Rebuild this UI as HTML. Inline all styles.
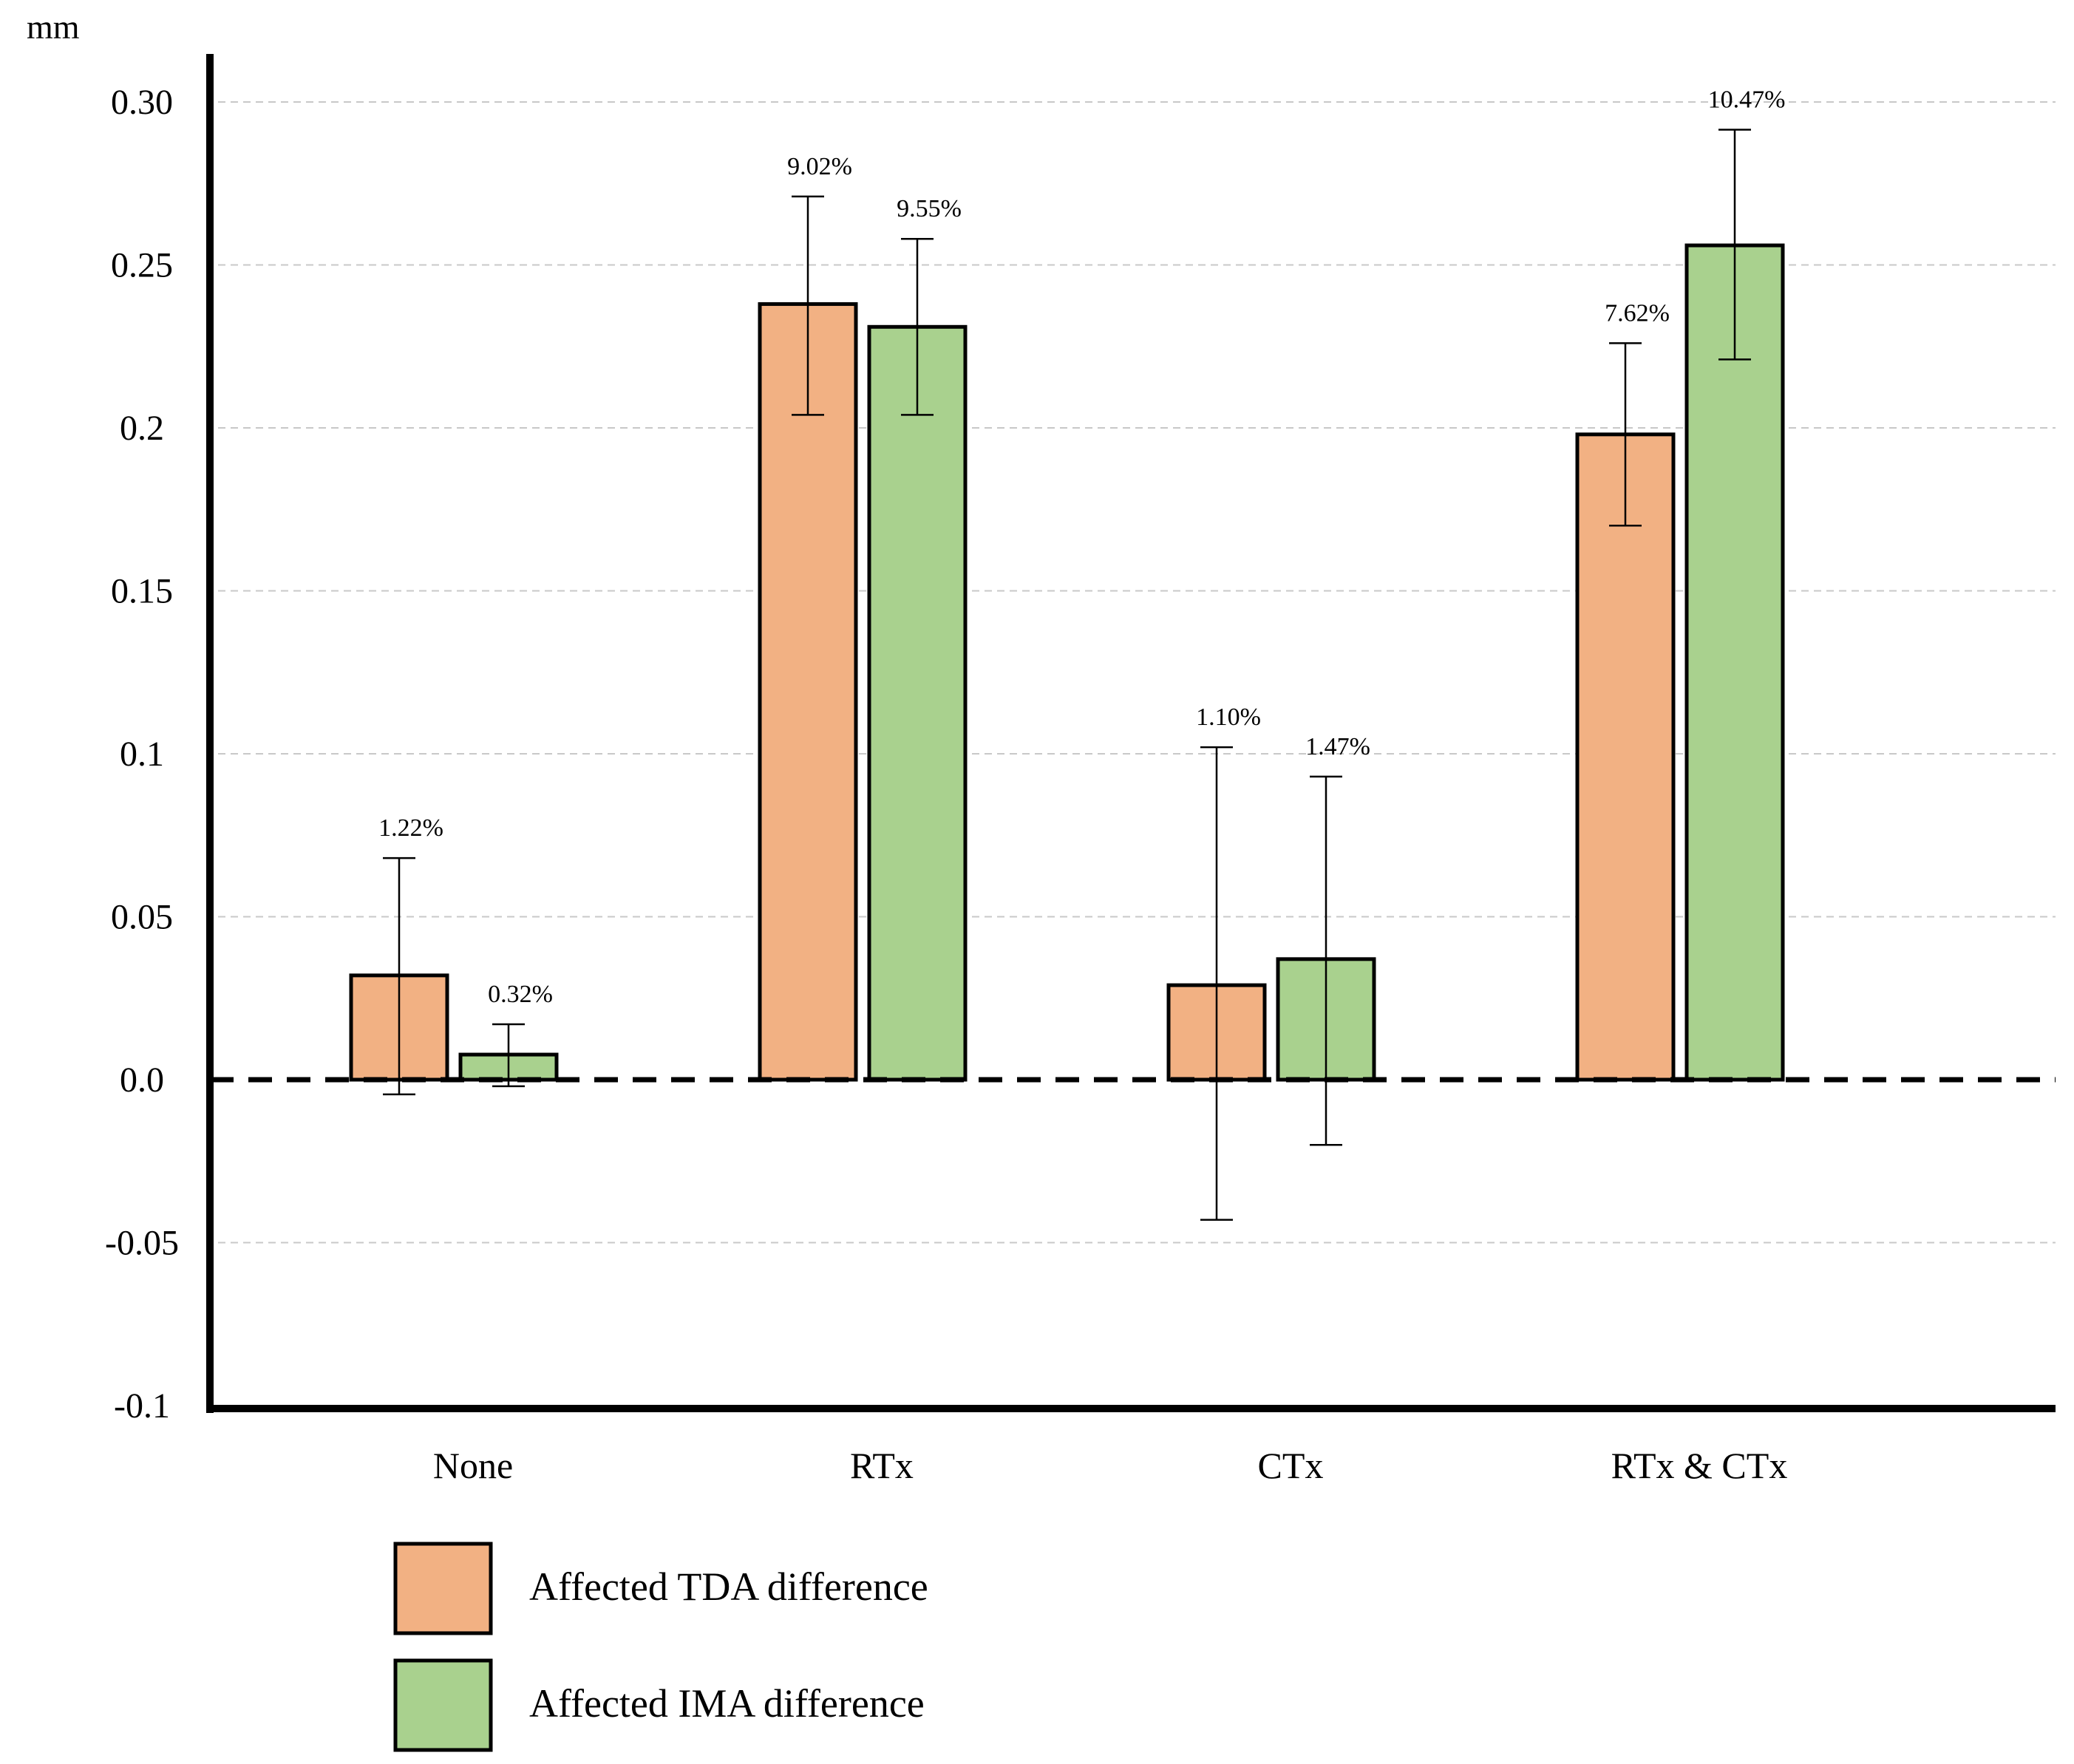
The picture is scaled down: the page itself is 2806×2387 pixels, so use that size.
<!DOCTYPE html>
<html><head><meta charset="utf-8"><style>
html,body{margin:0;padding:0;background:#fff;}
svg{display:block;font-family:"Liberation Serif",serif;}
</style></head><body>
<svg id="chart" width="2806" height="2387" viewBox="0 0 2806 2387" xmlns="http://www.w3.org/2000/svg">
<g id="grid"></g>
<g id="yticks"></g>
<text x="36" y="52" font-size="46">mm</text>
<g id="bars"></g>
<line x1="284" y1="1461" x2="2781" y2="1461" stroke="#000" stroke-width="7" stroke-dasharray="32,20"/>
<g id="errs"></g>
<line x1="284" y1="73" x2="284" y2="1912" stroke="#000" stroke-width="10"/>
<line x1="279" y1="1906" x2="2781" y2="1906" stroke="#000" stroke-width="10"/>
<g id="xlabels"></g>
<g>
<rect x="535" y="2089" width="129" height="121" fill="#F2B183" stroke="#000" stroke-width="5"/>
<text x="716" y="2165" font-size="54">Affected TDA difference</text>
<rect x="535" y="2247" width="129" height="121" fill="#A9D18E" stroke="#000" stroke-width="5"/>
<text x="716" y="2323" font-size="54">Affected IMA difference</text>
</g>
</svg>
<script>
const categories = ["None","RTx","CTx","RTx & CTx"];
const tdaValues = [0.032, 0.238, 0.029, 0.198];
const tdaErrHigh = [0.068, 0.271, 0.102, 0.226];
const tdaErrLow = [-0.0045, 0.204, -0.043, 0.170];
const tdaPct = ["1.22%","9.02%","1.10%","7.62%"];
const imaValues = [0.0077, 0.231, 0.037, 0.256];
const imaErrHigh = [0.017, 0.258, 0.093, 0.2915];
const imaErrLow = [-0.002, 0.204, -0.020, 0.221];
const imaPct = ["0.32%","9.55%","1.47%","10.47%"];
const yTicks = [-0.1,-0.05,0.0,0.05,0.1,0.15,0.2,0.25,0.30];
const yTickLabels = ["-0.1","-0.05","0.0","0.05","0.1","0.15","0.2","0.25","0.30"];

const NS="http://www.w3.org/2000/svg";
function y(v){return 1461 - v*4410;}
function gx(i){return 614 + i*553;}
const BW=130, GAP=18;
function mk(tag,attrs,parent){const e=document.createElementNS(NS,tag);for(const k in attrs)e.setAttribute(k,attrs[k]);parent.appendChild(e);return e;}
const grid=document.getElementById('grid'), yt=document.getElementById('yticks');
yTicks.forEach((t,i)=>{
  if(t!==0 && t!==-0.1){
    const l=mk('line',{x1:295,x2:2781,y1:y(t),y2:y(t),stroke:'#c8c8c8','stroke-width':2,'stroke-dasharray':'10,7'},grid);
    
    
  }
  const tx=mk('text',{x:192,y:y(t)+16,'font-size':48,'text-anchor':'middle'},yt);
  tx.textContent=yTickLabels[i];
  
  
});
const bars=document.getElementById('bars'), errs=document.getElementById('errs'), xl=document.getElementById('xlabels');
function series(vals,hi,lo,pct,color,off,name){
  vals.forEach((v,i)=>{
    const x0=gx(i)+off;
    const r=mk('rect',{x:x0,y:Math.min(y(v),y(0)),width:BW,height:Math.abs(y(0)-y(v)),fill:color,stroke:'#000','stroke-width':5},bars);
    
    
    const cx=x0+BW/2;
    const g=mk('g',{stroke:'#000','stroke-width':2.5},errs);
    
    
    mk('line',{x1:cx,x2:cx,y1:y(hi[i]),y2:y(lo[i])},g);
    mk('line',{x1:cx-22,x2:cx+22,y1:y(hi[i]),y2:y(hi[i])},g);
    mk('line',{x1:cx-22,x2:cx+22,y1:y(lo[i]),y2:y(lo[i])},g);
    const t=mk('text',{x:cx+16,y:y(hi[i])-30,'font-size':34,'text-anchor':'middle'},errs);
    t.textContent=pct[i];
    
    
  });
}
series(tdaValues,tdaErrHigh,tdaErrLow,tdaPct,'#F2B183',-BW-GAP/2,'tda');
series(imaValues,imaErrHigh,imaErrLow,imaPct,'#A9D18E',GAP/2,'ima');
categories.forEach((c,i)=>{
  const t=mk('text',{x:gx(i)+26,y:2000,'font-size':50,'text-anchor':'middle'},xl);
  t.textContent=c;
  
  
});
</script>
</body></html>
